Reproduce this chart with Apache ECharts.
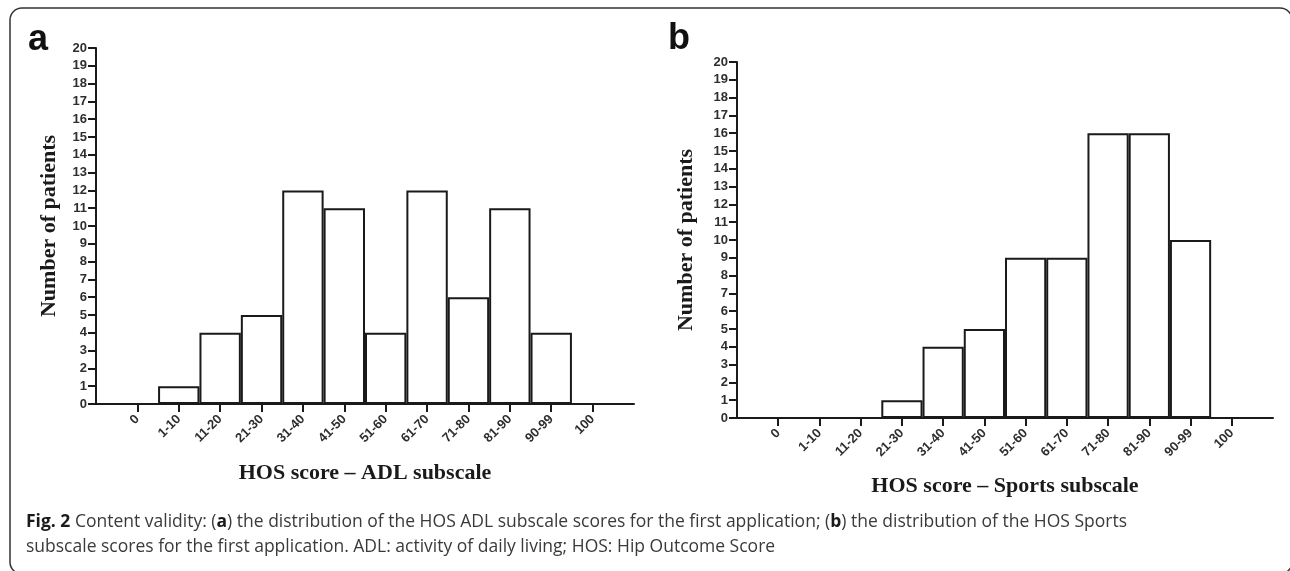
<!DOCTYPE html>
<html>
<head>
<meta charset="utf-8">
<script src="https://cdn.jsdelivr.net/npm/echarts@6/dist/echarts.min.js"></script>
<style>
  html, body { margin: 0; padding: 0; background: #fff; }
  #chart { width: 1290px; height: 571px; }
</style>
</head>
<body>
<div id="chart"></div>
<script>
// HOS score bins (x axis)
const scoreBins = ['0', '1-10', '11-20', '21-30', '31-40', '41-50', '51-60', '61-70', '71-80', '81-90', '90-99', '100'];
// number of patients per bin
const adlCounts = [0, 1, 4, 5, 12, 11, 4, 12, 6, 11, 4, 0];
const sportsCounts = [0, 0, 0, 1, 4, 5, 9, 9, 16, 16, 10, 0];
const yTicks = { min: 0, max: 20, step: 1 };

// empty slot on each side so the bins sit one step in from the y axis
const padCats = ['', ...scoreBins, ''];
const pad = arr => [null, ...arr, null];

const ink = '#1a1a1a';
const labelFont = { fontFamily: 'Liberation Sans', fontWeight: 'bold', fontSize: 13, color: '#2e2e2e' };
const nameFont = { fontFamily: 'Liberation Serif', fontWeight: 'bold', fontSize: 22, color: '#1a1a1a' };

function xAxisFor(gridIndex, name, gap) {
  return {
    type: 'category',
    gridIndex,
    data: padCats,
    boundaryGap: false,
    name,
    nameLocation: 'middle',
    nameGap: gap,
    nameTextStyle: nameFont,
    axisLine: { lineStyle: { color: ink, width: 2 } },
    axisTick: {
      length: 8,
      lineStyle: { color: ink, width: 2 },
      interval: (i, v) => v !== '',
    },
    axisLabel: Object.assign({ interval: 0, rotate: 45, margin: 13 }, labelFont),
    splitLine: { show: false },
  };
}

function yAxisFor(gridIndex, gap) {
  return {
    type: 'value',
    gridIndex,
    min: yTicks.min,
    max: yTicks.max,
    interval: yTicks.step,
    name: 'Number of patients',
    nameLocation: 'middle',
    nameGap: gap,
    nameTextStyle: nameFont,
    axisLine: { show: true, lineStyle: { color: ink, width: 2 } },
    axisTick: { show: true, length: 8, lineStyle: { color: ink, width: 2 } },
    axisLabel: Object.assign({ margin: 9 }, labelFont),
    splitLine: { show: false },
  };
}

function barSeries(idx, data) {
  return {
    type: 'bar',
    xAxisIndex: idx,
    yAxisIndex: idx,
    data: pad(data),
    barWidth: '100%',
    itemStyle: { color: '#fff', borderColor: ink, borderWidth: 2 },
    silent: true,
  };
}

const chart = echarts.init(document.getElementById('chart'));
chart.setOption({
  backgroundColor: '#fff',
  animation: false,
  grid: [
    { left: 96, top: 48, width: 538, height: 356, outerBoundsMode: 'none' },
    { left: 737, top: 62, width: 536, height: 356, outerBoundsMode: 'none' },
  ],
  xAxis: [
    xAxisFor(0, 'HOS score \u2013 ADL subscale', 58),
    xAxisFor(1, 'HOS score \u2013 Sports subscale', 57),
  ],
  yAxis: [yAxisFor(0, 36), yAxisFor(1, 40)],
  series: [barSeries(0, adlCounts), barSeries(1, sportsCounts)],
  graphic: [
    {
      type: 'rect',
      shape: { x: 10, y: 8, width: 1282, height: 566, r: 12 },
      style: { fill: null, stroke: '#333', lineWidth: 1.5 },
      silent: true,
    },
    {
      type: 'text', left: 28, top: 22,
      style: { text: 'a', font: 'bold 36px "Liberation Sans"', fill: '#111' },
    },
    {
      type: 'text', left: 668, top: 21,
      style: { text: 'b', font: 'bold 36px "Liberation Sans"', fill: '#111' },
    },
    {
      type: 'text', left: 26, top: 513,
      style: {
        text: '{b|Fig. 2} Content validity: ({b|a}) the distribution of the HOS ADL subscale scores for the first application; ({b|b}) the distribution of the HOS Sports',
        fontFamily: 'Open Sans', fontSize: 17.5, fill: '#3a3a3a',
        rich: { b: { fontFamily: 'Open Sans', fontSize: 17.5, fontWeight: 'bold', fill: '#1a1a1a' } },
      },
    },
    {
      type: 'text', left: 26, top: 538,
      style: {
        text: 'subscale scores for the first application. ADL: activity of daily living; HOS: Hip Outcome Score',
        fontFamily: 'Open Sans', fontSize: 17.5, fill: '#3a3a3a',
      },
    },
  ],
});
</script>
</body>
</html>
